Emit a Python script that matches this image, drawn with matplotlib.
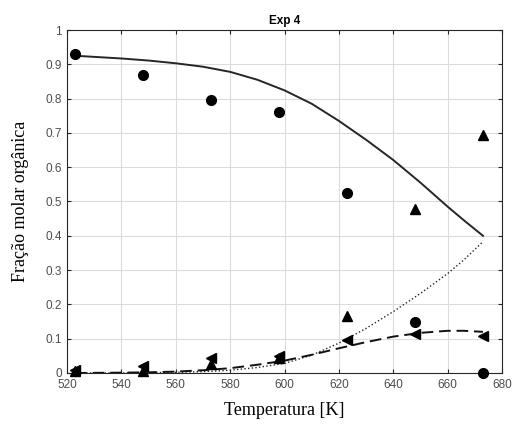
import matplotlib
matplotlib.use("Agg")
import matplotlib.pyplot as plt
import numpy as np

# experimental points
temp_exp = [523, 548, 573, 598, 623, 648, 673]
circ_exp = [0.93, 0.87, 0.795, 0.76, 0.525, 0.148, 0.0]
tri_up_exp = [0.005, 0.005, 0.025, 0.045, 0.165, 0.478, 0.695]
tri_left_exp = [0.008, 0.02, 0.045, 0.05, 0.095, 0.115, 0.107]

# model curves
temp_mod = [523, 540, 550, 560, 570, 580, 590, 600, 610, 620, 630, 640, 650, 660, 666, 673]
solid_mod = [0.925, 0.917, 0.911, 0.903, 0.893, 0.878, 0.855, 0.824, 0.785, 0.735, 0.68, 0.621, 0.555,
             0.485, 0.445, 0.40]
dotted_mod = [0.0, 0.0, 0.001, 0.002, 0.004, 0.008, 0.016, 0.028, 0.052, 0.087, 0.13, 0.179, 0.232,
              0.29, 0.33, 0.383]
dashed_mod = [0.0, 0.001, 0.002, 0.004, 0.008, 0.014, 0.024, 0.036, 0.053, 0.072, 0.09, 0.106, 0.117,
              0.123, 0.123, 0.12]

plt.rcParams['font.family'] = ['Liberation Sans', 'DejaVu Sans']

fig = plt.figure(figsize=(5.13, 4.30), dpi=100)
ax = fig.add_axes([0.1306, 0.1326, 0.848, 0.7976])

ax.plot(temp_mod, solid_mod, '-', color='#262626', lw=1.4)
ax.plot(temp_mod, dotted_mod, ':', color='#262626', lw=1.0)
ax.plot(temp_mod, dashed_mod, '--', color='#111111', lw=1.4, dashes=(6, 3))

ax.plot(temp_exp, circ_exp, 'o', color='black', ms=7, clip_on=False, zorder=5)
ax.plot(temp_exp, tri_up_exp, '^', color='black', ms=7, clip_on=False, zorder=5)
ax.plot(temp_exp, tri_left_exp, '<', color='black', ms=7, clip_on=False, zorder=5)

ax.set_xlim(520, 680)
ax.set_ylim(0, 1)
ax.set_xticks(np.arange(520, 681, 20))
ax.set_yticks(np.arange(0, 1.01, 0.1))
ax.set_yticklabels(['0', '0.1', '0.2', '0.3', '0.4', '0.5', '0.6', '0.7', '0.8', '0.9', '1'])
ax.grid(True, color='#dcdcdc', lw=0.8)
ax.set_axisbelow(True)
ax.tick_params(direction='in', length=3, labelsize=8.5, colors='#262626',
               labelcolor='#4d4d4d', top=True, right=True)
ax.tick_params(axis='x', pad=4.5)
for s in ax.spines.values():
    s.set_color('#262626')
    s.set_linewidth(0.8)

ax.set_title('Exp 4', fontsize=8.5, fontweight='bold', pad=4)
ax.set_xlabel('Temperatura [K]', family=['Liberation Serif'], fontsize=13, labelpad=8)
ax.set_ylabel('Fração molar orgânica', family=['Liberation Serif'], fontsize=13, labelpad=12)

fig.savefig('out.png', dpi=100)
